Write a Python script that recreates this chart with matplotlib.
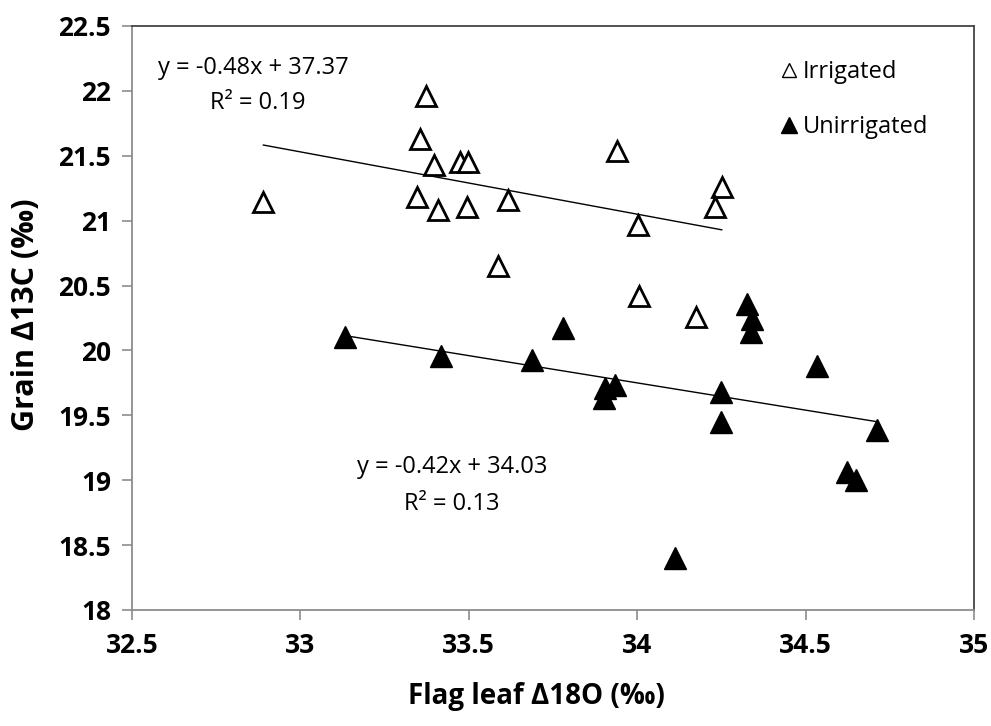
import matplotlib
matplotlib.use("Agg")
import matplotlib.pyplot as plt
import numpy as np
from matplotlib.lines import Line2D

plt.rcParams['font.family'] = ['Open Sans', 'DejaVu Sans']

# Irrigated (open triangles)
irr_x = [32.89, 33.372, 33.356, 33.397, 33.474, 33.499, 33.347, 33.41, 33.494,
         33.617, 33.588, 33.939, 34.251, 34.231, 34.003, 34.006, 34.175]
irr_y = [21.14, 21.96, 21.63, 21.43, 21.45, 21.45, 21.18, 21.08, 21.107,
         21.16, 20.65, 21.54, 21.26, 21.107, 20.966, 20.42, 20.26]

# Unirrigated (filled triangles)
unirr_x = [33.132, 33.417, 33.687, 33.779, 33.904, 33.934, 33.902, 34.325, 34.34,
           34.338, 34.533, 34.248, 34.248, 34.711, 34.622, 34.65, 34.113]
unirr_y = [20.10, 19.96, 19.93, 20.17, 19.71, 19.73, 19.63, 20.36, 20.24,
           20.14, 19.88, 19.68, 19.45, 19.39, 19.06, 19.00, 18.40]

# Trend line coefficients (slope, intercept)
irr_fit = [-0.48, 37.37]
unirr_fit = [-0.42, 34.03]

x_ticks = [32.5, 33, 33.5, 34, 34.5, 35]
y_ticks = [18, 18.5, 19, 19.5, 20, 20.5, 21, 21.5, 22, 22.5]

fig = plt.figure(figsize=(9.91, 7.26), dpi=100)
ax = fig.add_axes([132/991, 1-610/726, (974-132)/991, (610-26)/726])

# trend lines
for xs, fit in ((irr_x, irr_fit), (unirr_x, unirr_fit)):
    xl = np.array([min(xs), max(xs)])
    ax.plot(xl, fit[0]*xl + fit[1], color='black', lw=1.0, zorder=2)

ax.plot(irr_x, irr_y, linestyle='none', marker='^', ms=14, mfc='white',
        mec='black', mew=2.0, zorder=3)
ax.plot(unirr_x, unirr_y, linestyle='none', marker='^', ms=15.5, mfc='black',
        mec='black', mew=1.0, zorder=3)

ax.set_xlim(32.5, 35)
ax.set_ylim(18, 22.5)
ax.set_xticks(x_ticks)
ax.set_yticks(y_ticks)
ax.set_xticklabels([f"{v:g}" for v in x_ticks], fontsize=19, fontweight='bold')
ax.set_yticklabels([f"{v:g}" for v in y_ticks], fontsize=19, fontweight='bold')
ax.tick_params(direction='out', length=7, width=1.2, color='#8c8c8c')
ax.tick_params(axis='x', pad=9)
ax.tick_params(axis='y', pad=8)
for s in ax.spines.values():
    s.set_linewidth(1.3)
ax.spines['left'].set_color('#8c8c8c')
ax.spines['bottom'].set_color('#8c8c8c')
ax.spines['top'].set_color('#444444')
ax.spines['right'].set_color('#444444')

ax.set_xlabel("Flag leaf Δ18O (‰)", fontsize=20, fontweight='bold')
ax.set_ylabel("Grain Δ13C (‰)", fontsize=22, fontweight='bold')
ax.xaxis.set_label_coords((536-132)/842, -(682-610)/584)
ax.yaxis.set_label_coords(-(132-41)/842, 1-(315-26)/584)

ax.text(32.86, 22.18, "y = -0.48x + 37.37", fontsize=17, ha='center', va='center')
ax.text(32.874, 21.91, "R² = 0.19", fontsize=17, ha='center', va='center')
ax.text(33.45, 19.10, "y = -0.42x + 34.03", fontsize=17, ha='center', va='center')
ax.text(33.45, 18.82, "R² = 0.13", fontsize=17, ha='center', va='center')

handles = [Line2D([], [], linestyle='none', marker='^', ms=10, mfc='white', mec='black', mew=1.0),
           Line2D([], [], linestyle='none', marker='^', ms=11, mfc='black', mec='black')]
ax.legend(handles, ['Irrigated', 'Unirrigated'], loc='upper left',
          bbox_to_anchor=((772-132)/842, 1-(51-26)/584), frameon=False,
          fontsize=17, handlelength=0.6, handletextpad=0.3, labelspacing=1.3,
          borderaxespad=0)

fig.savefig("out.png", dpi=100)
